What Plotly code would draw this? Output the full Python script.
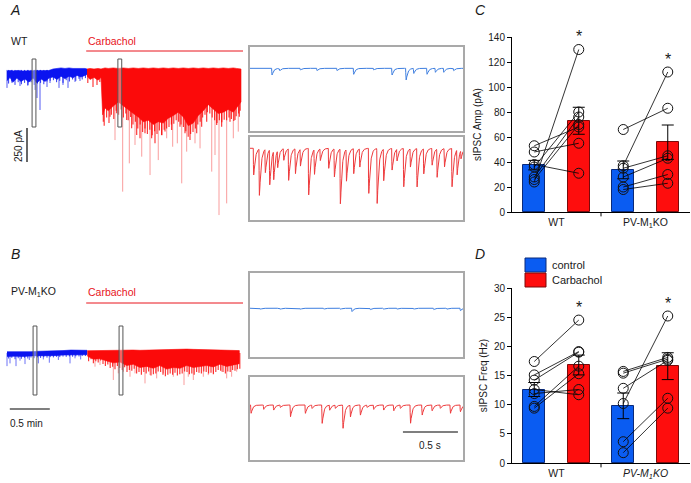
import numpy as np
import plotly.graph_objects as go

W, H = 691, 483

# ---------------- data ----------------
# Long recordings (time in min, current in pA relative to baseline; inward = negative)
drug_on = 1.0
trace_end = 2.96
scale_pA = 250
scale_min = 0.5
scale_s = 0.5

# A (WT) control segment: dense band edges
a_ctl_t = [0, .0375, .075, .125, .175, .225, .275, .325, .375, .425, .475, .525, .575, .625, .675, .725, .775, .825, .875, .925, .975, 1.0]
a_ctl_top = [-7, -4, -7, -4, -7, -7, -4, -7, -4, -7, -7, -4, 7, 11, 15, 11, 15, 11, 11, 15, 11, 7]
a_ctl_bot = [-80, -55, -90, -60, -85, -66, -90, -60, -95, -66, -85, -60, -52, -70, -46, -64, -46, -58, -40, -52, -40, -33]
a_ctl_fine_t = [0.02, 0.06, 0.1, 0.14, 0.18, 0.22, 0.26, 0.3, 0.34, 0.38, 0.42, 0.46, 0.5, 0.54, 0.58, 0.62, 0.66,
                0.7, 0.74, 0.78, 0.82, 0.86, 0.9, 0.94, 0.98]
a_ctl_fine = [-100, -85, -110, -90, -105, -95, -115, -90, -110, -100, -95, -105, -85, -80, -75, -90, -80, -95, -75,
              -85, -70, -80, -65, -70, -60]
a_ctl_spk_t = [0.0, 0.0625, 0.1625, 0.2625, 0.35, 0.375, 0.4125, 0.5, 0.5375, 0.65, 0.7, 0.7625, 0.85, 0.9125]
a_ctl_spk = [-132, -96, -118, -110, -147, -206, -294, -125, -96, -132, -110, -132, -88, -81]
# A carbachol segment
a_cch_t = [1.0, 1.0375, 1.0875, 1.1375, 1.175, 1.196, 1.225, 1.266, 1.329, 1.391, 1.454, 1.516, 1.579, 1.641, 1.704,
           1.766, 1.829, 1.891, 1.954, 2.016, 2.079, 2.141, 2.204, 2.266, 2.329, 2.391, 2.454, 2.516, 2.579, 2.641,
           2.704, 2.766, 2.829, 2.871, 2.925]
a_cch_top = [7, 11, 7, 11, 7, 11, 15, 11, 15, 11, 15, 11, 15, 11, 15, 11, 15, 11, 15, 11, 15, 11, 15, 11, 15,
             11, 15, 11, 15, 11, 15, 11, 15, 11, 7]
a_cch_bot = [-44, -70, -55, -75, -55, -330, -280, -300, -265, -235, -265, -290, -320, -345, -380, -370, -400, -380,
             -390, -355, -335, -310, -345, -410, -390, -335, -300, -255, -290, -320, -310, -290, -310, -280, -235]
a_cch_mid_t = [1.01, 1.075, 1.125, 1.16, 1.204, 1.2875, 1.371, 1.496, 1.558, 1.621, 1.6625, 1.725, 1.808, 1.85, 1.933,
               1.975, 2.058, 2.1625, 2.225, 2.2875, 2.371, 2.433, 2.496, 2.621, 2.683, 2.7875, 2.85, 2.904,
               1.215, 1.245, 1.275, 1.305, 1.335, 1.365, 1.395, 1.425, 1.455, 1.485, 1.515, 1.545, 1.575, 1.605,
               1.635, 1.665, 1.695, 1.725, 1.755, 1.785, 1.815, 1.845, 1.875, 1.905, 1.935, 1.965, 1.995, 2.025,
               2.055, 2.085, 2.115, 2.145, 2.175, 2.205, 2.235, 2.265, 2.295, 2.325, 2.355, 2.385, 2.415, 2.445,
               2.475, 2.505, 2.535, 2.565, 2.595, 2.625, 2.655, 2.685, 2.715, 2.745, 2.775, 2.805, 2.835, 2.865,
               2.895, 2.915]
a_cch_mid = [-96, -125, -110, -88, -380, -343, -318, -368, -429, -478, -502, -465, -502, -539, -478, -453,
             -441, -417, -465, -515, -465, -417, -380, -404, -417, -380, -368, -343,
             -410, -350, -390, -330, -360, -300, -330, -290, -350, -320, -370, -345, -400, -380, -430, -400, -455,
             -430, -470, -440, -480, -450, -470, -445, -480, -440, -430, -420, -400, -395, -370, -380, -400, -420,
             -450, -490, -470, -455, -430, -400, -380, -350, -330, -310, -320, -350, -370, -390, -370, -385, -365,
             -370, -350, -360, -375, -340, -320, -300]
a_cch_spk_t = [1.35, 1.446, 1.529, 1.6, 1.684, 1.788, 1.891, 1.996, 2.071, 2.129, 2.184, 2.246, 2.35, 2.413, 2.559,
               2.6, 2.65, 2.746, 2.829, 2.891]
a_cch_spk = [-515, -894, -686, -551, -637, -772, -662, -502, -564, -539, -833, -600, -539, -576, -747,
             -625, -1066, -980, -502, -453]
a_windows = [0.3375, 1.41]

# B (PV-M1KO)
b_ctl_t = [0, .1, .2, .3, .4, .5, .6, .7, .8, .9, 1.0]
b_ctl_top = [10, 10, 7, 10, 13, 13, 15, 18, 22, 22, 20]
b_ctl_bot = [-26, -23, -26, -21, -23, -19, -19, -15, -12, -12, -12]
b_ctl_fine_t = [0.02, 0.06, 0.1, 0.14, 0.18, 0.22, 0.26, 0.3, 0.34, 0.38, 0.42, 0.46, 0.5, 0.54, 0.58, 0.62, 0.66,
                0.7, 0.74, 0.78, 0.82, 0.86, 0.9, 0.94, 0.98]
b_ctl_fine = [-40, -35, -45, -38, -42, -35, -40, -33, -38, -32, -36, -30, -34, -30, -32, -28, -30, -26, -28, -25,
              -27, -24, -25, -22, -22]
b_ctl_spk_t = [0.0, 0.0375, 0.1125, 0.1625, 0.225, 0.279, 0.392, 0.454, 0.529, 0.642, 0.7875, 0.85, 0.921]
b_ctl_spk = [-96, -76, -96, -56, -81, -51, -76, -47, -71, -51, -76, -39, -47]
b_cch_t = [1.004, 1.079, 1.1625, 1.246, 1.329, 1.4125, 1.496, 1.579, 1.6625, 1.746, 1.829, 1.9125, 1.996, 2.079,
           2.1625, 2.246, 2.329, 2.4125, 2.496, 2.579, 2.6625, 2.746, 2.829, 2.904]
b_cch_top = [17, 18, 18, 20, 18, 20, 20, 22, 20, 22, 22, 24, 24, 26, 27, 29, 27, 26, 24, 24, 22, 22, 20, 18]
b_cch_bot = [-22, -45, -42, -58, -72, -66, -92, -82, -106, -98, -112, -92, -118, -106, -112, -92, -106, -98,
             -92, -102, -82, -98, -86, -78]
b_cch_fine_t = [1.02, 1.05, 1.08, 1.11, 1.14, 1.17, 1.2, 1.23, 1.26, 1.29, 1.32, 1.35, 1.38, 1.41, 1.44, 1.47, 1.5,
                1.53, 1.56, 1.59, 1.62, 1.65, 1.68, 1.71, 1.74, 1.77, 1.8, 1.83, 1.86, 1.89, 1.92, 1.95, 1.98, 2.01,
                2.04, 2.07, 2.1, 2.13, 2.16, 2.19, 2.22, 2.25, 2.28, 2.31, 2.34, 2.37, 2.4, 2.43, 2.46, 2.49, 2.52,
                2.55, 2.58, 2.61, 2.64, 2.67, 2.7, 2.73, 2.76, 2.79, 2.82, 2.85, 2.88, 2.91]
b_cch_fine = [-60, -45, -75, -60, -70, -55, -80, -95, -85, -110, -100, -120, -95, -110, -125, -105, -140, -125, -130,
              -115, -150, -140, -160, -140, -150, -135, -165, -155, -150, -135, -140, -160, -170, -160, -150, -160,
              -145, -165, -155, -150, -135, -140, -155, -150, -160, -140, -145, -150, -135, -140, -150, -145, -155,
              -140, -125, -130, -140, -150, -135, -140, -125, -130, -120, -115]
b_cch_spk_t = [1.1, 1.1625, 1.329, 1.391, 1.454, 1.5375, 1.6, 1.725, 1.7875, 1.871, 1.954, 2.079, 2.2125, 2.266,
               2.329, 2.454, 2.516, 2.579, 2.683, 2.746, 2.808, 2.871]
b_cch_spk = [-100, -88, -198, -149, -137, -174, -149, -223, -162, -186, -149, -174, -235, -174, -198, -174, -162,
             -149, -137, -186, -174, -137]
b_windows = [0.35, 1.425]

# Expanded sweeps (time in s, event amplitude in pA)
inset_len = 1.936
ia_ctl_t = [0.197, 0.267, 0.455, 0.606, 0.788, 0.939, 1.121, 1.288, 1.415, 1.485, 1.606, 1.682, 1.758, 1.848]
ia_ctl_amp = [49, 17, 12, 17, 17, 44, 12, 49, 86, 37, 44, 29, 29, 17]
ia_cch_t = [0.030, 0.082, 0.136, 0.176, 0.212, 0.248, 0.303, 0.348, 0.409, 0.455, 0.530, 0.582, 0.636, 0.712,
            0.764, 0.818, 0.873, 0.939, 0.994, 1.076, 1.152, 1.212, 1.288, 1.333, 1.394, 1.455, 1.515, 1.576,
            1.652, 1.697, 1.764, 1.833, 1.879, 1.915]
ia_cch_amp = [196, 343, 171, 257, 208, 123, 86, 233, 184, 123, 343, 184, 86, 147, 208, 404, 233, 184, 135, 331,
              404, 233, 159, 86, 282, 135, 282, 184, 123, 208, 135, 282, 184, 61]
ib_ctl_t = [0.091, 0.273, 0.455, 0.667, 0.818, 0.924, 1.091, 1.212, 1.333, 1.485, 1.667, 1.788, 1.909]
ib_ctl_amp = [7, 7, 7, 7, 7, 24, 10, 7, 7, 7, 10, 7, 17]
ib_cch_t = [0.006, 0.121, 0.212, 0.273, 0.364, 0.500, 0.561, 0.652, 0.721, 0.773, 0.842, 0.909, 1.0, 1.061,
            1.121, 1.212, 1.303, 1.364, 1.455, 1.561, 1.652, 1.727, 1.818, 1.909]
ib_cch_amp = [61, 32, 37, 17, 86, 61, 24, 135, 37, 24, 171, 86, 74, 17, 32, 37, 42, 24, 135, 74, 42, 24, 61, 49]

# Summary panels
groups = ['WT', 'PV-M<sub>1</sub>KO']
groups_d = ['WT', '<i>PV-M<sub>1</sub>KO</i>']
conds = ['control', 'Carbachol']
amp_ctl_mean = [37.5, 33.7]
amp_cch_mean = [73.0, 55.8]
amp_ctl_sem = [3.8, 7.1]
amp_cch_sem = [10.8, 13.8]
freq_ctl_mean = [12.6, 9.8]
freq_cch_mean = [16.8, 16.6]
freq_ctl_sem = [1.2, 2.2]
freq_cch_sem = [1.7, 2.3]
amp_wt_ctl = [24, 53, 48, 38, 36, 28, 26]
amp_wt_cch = [130, 68, 55, 31, 80, 76, 70]
amp_ko_ctl = [37, 66, 35, 28, 20, 18]
amp_ko_cch = [112, 83, 45, 43, 30, 23]
freq_wt_ctl = [17.4, 15.1, 14.2, 11.9, 9.7, 12.6, 9.4]
freq_wt_cch = [24.5, 19.1, 19.0, 12.6, 16.6, 11.7, 15.3]
freq_ko_ctl = [15.7, 15.4, 12.8, 10.2, 3.65, 1.77]
freq_ko_cch = [18.1, 17.8, 17.6, 25.2, 11.1, 9.4]

# ---------------- styling ----------------
BLUE_TR = '#0a14f0'
RED_TR = '#fb0a0a'
BLUE_IN = '#3d7ee0'
RED_IN = '#ee3a3c'
BLUE_BAR = '#0a5cf2'
RED_BAR = '#fe0d0d'
TXT = '#1a1a1a'
FONT = 'Liberation Sans, Arial, sans-serif'


def dx(x0, x1):
    return [x0 / W, x1 / W]


def dy(y0, y1):
    return [1 - y1 / H, 1 - y0 / H]


def px(x):
    return x / W


def py(y):
    return 1 - y / H


fig = go.Figure()


def band(t, top, bot, color, xa, ya):
    fig.add_trace(go.Scatter(x=list(t) + list(t)[::-1], y=list(top) + list(bot)[::-1], fill='toself',
                             fillcolor=color, mode='lines', line=dict(color=color, width=0.6),
                             xaxis=xa, yaxis=ya, hoverinfo='skip', showlegend=False))


def spikes(t, d, color, width, xa, ya):
    xs, ys = [], []
    for ti, di in zip(t, d):
        xs += [ti, ti, None]
        ys += [0, di, None]
    fig.add_trace(go.Scatter(x=xs, y=ys, mode='lines', line=dict(color=color, width=width),
                             xaxis=xa, yaxis=ya, hoverinfo='skip', showlegend=False))


# long trace A
spikes(a_ctl_spk_t, a_ctl_spk, 'rgba(10,20,240,0.7)', 1, 'x', 'y')
spikes(a_ctl_fine_t, a_ctl_fine, 'rgba(10,20,240,0.85)', 1, 'x', 'y')
band(a_ctl_t, a_ctl_top, a_ctl_bot, BLUE_TR, 'x', 'y')
spikes(a_cch_spk_t, a_cch_spk, 'rgba(245,60,60,0.5)', 1, 'x', 'y')
spikes(a_cch_mid_t, a_cch_mid, 'rgba(251,10,10,0.8)', 1.2, 'x', 'y')
band(a_cch_t, a_cch_top, a_cch_bot, RED_TR, 'x', 'y')
# long trace B
spikes(b_ctl_spk_t, b_ctl_spk, 'rgba(10,20,240,0.6)', 1, 'x2', 'y2')
spikes(b_ctl_fine_t, b_ctl_fine, 'rgba(10,20,240,0.8)', 1, 'x2', 'y2')
band(b_ctl_t, b_ctl_top, b_ctl_bot, BLUE_TR, 'x2', 'y2')
spikes(b_cch_spk_t, b_cch_spk, 'rgba(245,60,60,0.5)', 1, 'x2', 'y2')
spikes(b_cch_fine_t, b_cch_fine, 'rgba(251,10,10,0.8)', 1.2, 'x2', 'y2')
band(b_cch_t, b_cch_top, b_cch_bot, RED_TR, 'x2', 'y2')


# expanded sweeps
def psc(times, amps, t):
    y = np.zeros_like(t)
    tr, td = 0.0015, 0.014
    tp = tr * td / (td - tr) * np.log(td / tr)
    norm = np.exp(-tp / td) - np.exp(-tp / tr)
    for t0, a in zip(times, amps):
        dt = t - t0
        m = dt > 0
        y[m] -= a * (np.exp(-dt[m] / td) - np.exp(-dt[m] / tr)) / norm
    return y


tt = np.linspace(0, inset_len, 1500)
for (ev_t, ev_a, col, xa, ya) in [(ia_ctl_t, ia_ctl_amp, BLUE_IN, 'x3', 'y3'),
                                  (ia_cch_t, ia_cch_amp, RED_IN, 'x4', 'y4'),
                                  (ib_ctl_t, ib_ctl_amp, BLUE_IN, 'x5', 'y5'),
                                  (ib_cch_t, ib_cch_amp, RED_IN, 'x6', 'y6')]:
    fig.add_trace(go.Scatter(x=tt, y=psc(ev_t, ev_a, tt), mode='lines', line=dict(color=col, width=1),
                             xaxis=xa, yaxis=ya, hoverinfo='skip', showlegend=False))

# summary bars
off = 0.25
bw = 0.25


def summary(xa, ya, ctl_m, cch_m, ctl_s, cch_s, pts):
    for means, sems, col, line, sgn in [(ctl_m, ctl_s, BLUE_BAR, '#0a2a7a', -1), (cch_m, cch_s, RED_BAR, '#7a0a0a', 1)]:
        fig.add_trace(go.Bar(x=[g + sgn * off for g in range(len(means))], y=means, width=bw,
                             marker=dict(color=col, line=dict(color=line, width=1)),
                             error_y=dict(type='data', array=sems, visible=True, color='black', thickness=1, width=6),
                             xaxis=xa, yaxis=ya, showlegend=False, hoverinfo='skip'))
    for g, (c, d) in enumerate(pts):
        xs, ys = [], []
        for a, b in zip(c, d):
            xs += [g - off, g + off, None]
            ys += [a, b, None]
        fig.add_trace(go.Scatter(x=xs, y=ys, mode='lines', line=dict(color='black', width=0.8),
                                 xaxis=xa, yaxis=ya, showlegend=False, hoverinfo='skip'))
        fig.add_trace(go.Scatter(x=[g - off] * len(c) + [g + off] * len(d), y=list(c) + list(d), mode='markers',
                                 marker=dict(symbol='circle-open', size=10, color='#111', line=dict(width=1)),
                                 xaxis=xa, yaxis=ya, showlegend=False, hoverinfo='skip'))


summary('x7', 'y7', amp_ctl_mean, amp_cch_mean, amp_ctl_sem, amp_cch_sem,
        [(amp_wt_ctl, amp_wt_cch), (amp_ko_ctl, amp_ko_cch)])
summary('x8', 'y8', freq_ctl_mean, freq_cch_mean, freq_ctl_sem, freq_cch_sem,
        [(freq_wt_ctl, freq_wt_cch), (freq_ko_ctl, freq_ko_cch)])

# ---------------- layout ----------------
hidden = dict(visible=False, showgrid=False, zeroline=False)
inset_ax = dict(showline=True, mirror=True, linecolor='#a9a9a9', linewidth=1.5, showgrid=False,
                zeroline=False, showticklabels=False, ticks='')

layout = dict(
    width=W, height=H, margin=dict(l=0, r=0, t=0, b=0), paper_bgcolor='white', plot_bgcolor='white',
    font=dict(family=FONT, size=10, color=TXT), showlegend=False, bargap=0,
    xaxis=dict(domain=dx(5, 243), range=[-0.025, 2.95], anchor='y', **hidden),
    yaxis=dict(domain=dy(40, 225), range=[-1139, 220], anchor='x', **hidden),
    xaxis2=dict(domain=dx(5, 243), range=[-0.025, 2.95], anchor='y2', **hidden),
    yaxis2=dict(domain=dy(285, 420), range=[-492, 500], anchor='x2', **hidden),
)
inset_boxes = [(3, (47, 131), [-461, 157]), (4, (137, 220), [-527, 83]),
               (5, (273, 357), [-358, 259]), (6, (377, 460), [-404, 206])]
for i, (y0, y1), yr in inset_boxes:
    layout['xaxis%d' % i] = dict(domain=dx(250, 463), range=[0, inset_len], anchor='y%d' % i, **inset_ax)
    layout['yaxis%d' % i] = dict(domain=dy(y0, y1), range=yr, anchor='x%d' % i, **inset_ax)

bar_x = dict(range=[-0.5, 1.5], showline=True, linecolor='black', linewidth=1, tickvals=[0, 1], ticks='',
             tickfont=dict(size=10.5), showgrid=False, zeroline=False, automargin=False)
bar_y = dict(showline=True, linecolor='black', linewidth=1, ticks='outside', ticklen=4, tickwidth=1,
             tickcolor='black', showgrid=False, zeroline=False, automargin=False, tickfont=dict(size=10))
layout['xaxis7'] = dict(domain=dx(512, 690), anchor='y7', ticktext=groups, **bar_x)
layout['yaxis7'] = dict(domain=dy(37, 212), anchor='x7', range=[0, 140], tickvals=list(range(0, 141, 20)),
                        title=dict(text='sIPSC Amp (pA)', font=dict(size=10), standoff=4), **bar_y)
layout['xaxis8'] = dict(domain=dx(512, 690), anchor='y8', ticktext=groups_d, **bar_x)
layout['yaxis8'] = dict(domain=dy(288, 463), anchor='x8', range=[0, 30], tickvals=list(range(0, 31, 5)),
                        title=dict(text='sIPSC Freq (Hz)', font=dict(size=10), standoff=4), **bar_y)
fig.update_layout(**layout)

shapes = []
ann = []
# sample windows
for xa, wins, (y0, y1) in [('x', a_windows, (59, 127)), ('x2', b_windows, (326, 395))]:
    for w in wins:
        shapes.append(dict(type='rect', xref=xa, yref='paper', x0=w - 0.024, x1=w + 0.024, y0=py(y1), y1=py(y0),
                           line=dict(color='#555', width=1), fillcolor='rgba(255,255,255,0.35)'))
# drug bars
for xa, yy in [('x', 51), ('x2', 303)]:
    shapes.append(dict(type='line', xref=xa, yref='paper', x0=drug_on - 0.01, x1=trace_end, y0=py(yy), y1=py(yy),
                       line=dict(color='#e8141c', width=1)))
# scale bars
shapes.append(dict(type='line', xref='x', yref='y', x0=0.25, x1=0.25, y0=-426, y1=-426 - scale_pA,
                   line=dict(color='black', width=1.2)))
shapes.append(dict(type='line', xref='x2', yref='paper', x0=0.035, x1=0.035 + scale_min, y0=py(409), y1=py(409),
                   line=dict(color='black', width=1.2)))
shapes.append(dict(type='line', xref='x6', yref='paper', x0=1.39, x1=1.39 + scale_s, y0=py(432), y1=py(432),
                   line=dict(color='black', width=1.2)))
# category separator ticks
for xa, ya in [('x7', 'y7'), ('x8', 'y8')]:
    shapes.append(dict(type='line', xref=xa, yref=ya + ' domain', x0=0.5, x1=0.5, y0=0, y1=-0.025,
                       line=dict(color='black', width=1)))
# legend
for i, (name, col, lc) in enumerate(zip(conds, [BLUE_BAR, RED_BAR], ['#0a2a7a', '#7a0a0a'])):
    yt = 258 + i * 15
    shapes.append(dict(type='rect', xref='paper', yref='paper', x0=px(525), x1=px(546), y0=py(yt + 14), y1=py(yt),
                       fillcolor=col, line=dict(color=lc, width=1)))
    ann.append(dict(text=name, x=px(550), y=py(yt + 7), xref='paper', yref='paper', xanchor='left',
                    yanchor='middle', showarrow=False, font=dict(size=11)))

# text labels
for letter, x, y in [('A', 15, 10), ('B', 15, 254), ('C', 480, 10), ('D', 480, 254)]:
    ann.append(dict(text='<i>%s</i>' % letter, x=px(x), y=py(y), xref='paper', yref='paper', showarrow=False,
                    xanchor='center', yanchor='middle', font=dict(size=14)))
ann.append(dict(text='WT', x=px(9), y=py(41), xref='paper', yref='paper', xanchor='left', yanchor='middle',
                showarrow=False, font=dict(size=10.5)))
ann.append(dict(text='PV-M<sub>1</sub>KO', x=px(9), y=py(292), xref='paper', yref='paper', xanchor='left',
                yanchor='middle', showarrow=False, font=dict(size=10.5)))
for yy in [41, 292]:
    ann.append(dict(text='Carbachol', x=drug_on - 0.01, y=py(yy), xref='x', yref='paper', xanchor='left',
                    yanchor='middle', showarrow=False, font=dict(size=10.5, color='#e8141c')))
ann.append(dict(text='250 pA', x=px(18), y=py(146), xref='paper', yref='paper', textangle=-90, showarrow=False,
                xanchor='center', yanchor='middle', font=dict(size=10)))
ann.append(dict(text='0.5 min', x=px(8), y=py(423), xref='paper', yref='paper', xanchor='left', yanchor='middle',
                showarrow=False, font=dict(size=10)))
ann.append(dict(text='0.5 s', x=1.39 + scale_s / 2, y=py(445), xref='x6', yref='paper', xanchor='center',
                yanchor='middle', showarrow=False, font=dict(size=10)))
# significance stars
for xa, ya, pts in [('x7', 'y7', [amp_wt_cch, amp_ko_cch]), ('x8', 'y8', [freq_wt_cch, freq_ko_cch])]:
    for g, p in enumerate(pts):
        ann.append(dict(text='*', x=g + off, y=max(p), xref=xa, yref=ya, xanchor='center', yanchor='bottom',
                        yshift=2, showarrow=False, font=dict(size=16)))

fig.update_layout(shapes=shapes, annotations=ann)
fig.write_html('out.html', config={'displayModeBar': False},
               post_script="document.body.style.margin='0px';")
